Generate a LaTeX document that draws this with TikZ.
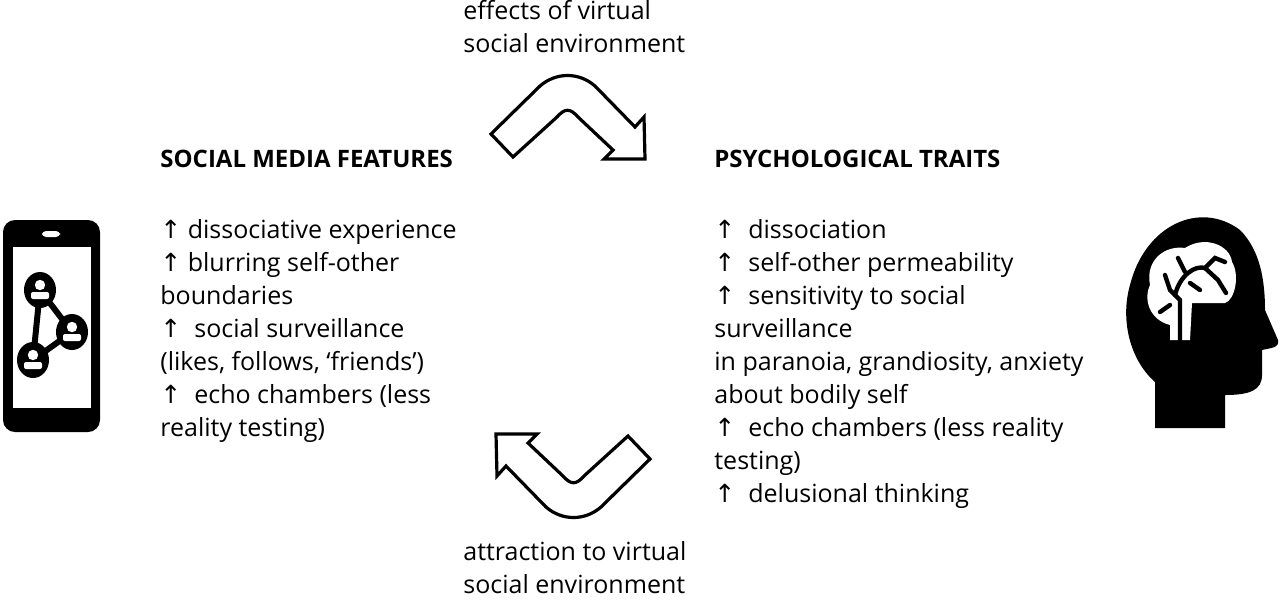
\documentclass[tikz,border=0pt]{standalone}
\usepackage{fontspec}
\setmainfont{Open Sans}
\newfontfamily\arrowfont{DejaVu Sans}
\usetikzlibrary{positioning}
\newcommand{\up}{{\arrowfont ↑}\ }
\begin{document}
\begin{tikzpicture}
    [x=0.5pt,y=-0.5pt,
     txt/.style={anchor=north west,align=left,inner sep=0pt,font=\fontsize{12.5}{16.5}\selectfont},
     head/.style={txt,font=\fontsize{12}{16.5}\selectfont\bfseries},
     bentarrow/.style={draw=black,line width=1.6pt,fill=white,line join=miter}]
    \useasboundingbox (0,0) rectangle (1280,601);

    % labels of the two arrows
    \node[txt] (topl) at (463,0) {effects of virtual\\social environment};
    \node[txt] (botl) at (463,541) {attraction to virtual\\social environment};

    % left block
    \node[head] (lhead) at (160,150) {SOCIAL MEDIA FEATURES};
    \node[txt] (llist) at (160,219) {\up dissociative experience\\\up blurring self-other\\boundaries\\\up\ social surveillance\\(likes, follows, ‘friends’)\\\up\ echo chambers (less\\reality testing)};

    % right block
    \node[head] (rhead) at (714,150) {PSYCHOLOGICAL TRAITS};
    \node[txt] (rlist) at (714,219) {\up\ dissociation\\\up\ self-other permeability\\\up\ sensitivity to social\\surveillance\\in paranoia, grandiosity, anxiety\\about bodily self\\\up\ echo chambers (less reality\\testing)\\\up\ delusional thinking};

    % bent arrows
    \draw[bentarrow] (491,134) -- (540,86) .. controls (556,72) and (579,72) .. (595,86)
        -- (635,127) -- (644,117) -- (645,159) -- (604,159) -- (613,150)
        -- (578,117) .. controls (570,108) and (565,108) .. (557,117) -- (513,157) -- cycle;
    \begin{scope}[shift={(1141,593)},rotate=180]
    \draw[bentarrow] (491,134) -- (540,86) .. controls (556,72) and (579,72) .. (595,86)
        -- (635,127) -- (644,117) -- (645,159) -- (604,159) -- (613,150)
        -- (578,117) .. controls (570,108) and (565,108) .. (557,117) -- (513,157) -- cycle;
    \end{scope}

    % phone
    \fill[rounded corners=6pt] (3,220) rectangle (100,432);
    \fill[white] (13,247) rectangle (91,408);
    \fill[white,rounded corners=2pt] (42,231) rectangle (60,237);
    \coordinate (p1) at (40,290);
    \coordinate (p2) at (72,332);
    \coordinate (p3) at (33,360);
    \draw[line width=3pt] (p1) -- (p2) -- (p3) -- cycle;
    \foreach \p in {p1,p2,p3} {
        \fill (\p) ellipse [x radius=8pt,y radius=9pt];
        \fill[white] ([yshift=2.5pt]\p) circle [radius=2.6pt];
        \fill[white,rounded corners=1pt] ([xshift=-4.5pt,yshift=-1pt]\p) rectangle ([xshift=4.5pt,yshift=-4.5pt]\p);
    }

    % head
    \fill (1155,428) -- (1155,382) .. controls (1130,360) and (1120,320) .. (1130,285)
        .. controls (1145,225) and (1200,200) .. (1240,230)
        .. controls (1260,250) and (1265,280) .. (1265,310)
        -- (1278,340) .. controls (1280,348) and (1270,348) .. (1262,350)
        -- (1262,375) .. controls (1262,390) and (1250,395) .. (1225,395) -- (1225,428) -- cycle;
    \fill[white] (1170,340) -- (1170,325) .. controls (1150,320) and (1143,300) .. (1150,285)
        .. controls (1145,260) and (1165,245) .. (1185,248)
        .. controls (1205,235) and (1230,245) .. (1232,262)
        .. controls (1240,275) and (1235,300) .. (1225,303) -- (1192,303) -- (1190,340) -- cycle;
    \draw[line width=2.2pt,line cap=round] (1180,340) -- (1180,300) -- (1170,290) -- (1165,275);
    \draw[line width=2.2pt,line cap=round] (1175,295) .. controls (1180,275) and (1195,265) .. (1205,268)
        -- (1218,280) -- (1226,293);
    \draw[line width=2.2pt,line cap=round] (1185,272) -- (1178,258);
    \draw[line width=2.2pt,line cap=round] (1205,268) -- (1215,258) -- (1225,262);
    \draw[line width=2.2pt,line cap=round] (1190,283) -- (1200,290);
    \draw[line width=2.2pt,line cap=round] (1170,305) -- (1160,312);
\end{tikzpicture}
\end{document}
